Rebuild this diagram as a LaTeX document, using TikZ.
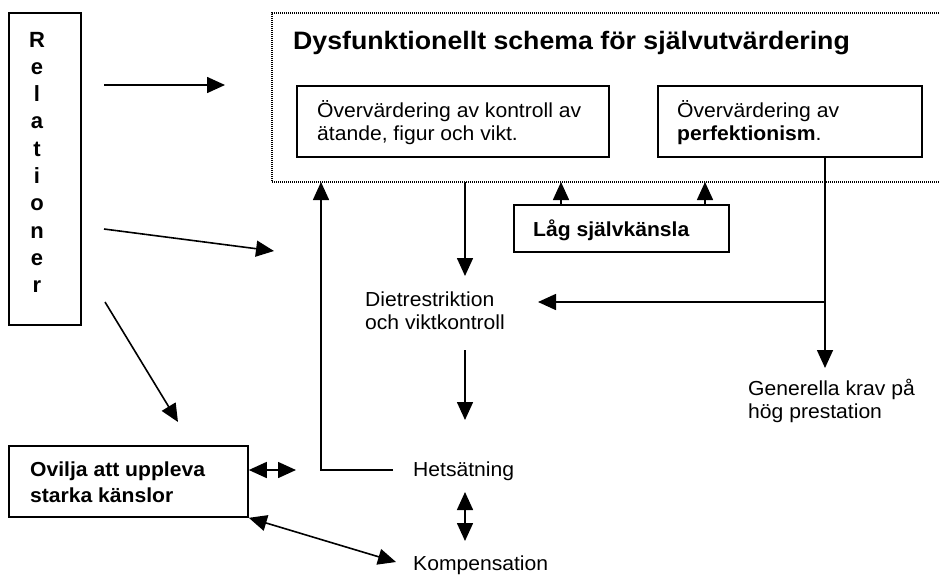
\documentclass[tikz,border=0pt]{standalone}
\usepackage{fontspec}
\setmainfont{Liberation Sans}
\usepackage{graphicx}
\usetikzlibrary{arrows.meta}
\newcommand{\hs}[1]{\scalebox{1.04}[1]{#1}}
\newcommand{\hst}[1]{\scalebox{1.06}[1]{#1}}
\begin{document}
\begin{tikzpicture}[x=1pt,y=-1pt,
  bx/.style={draw, line width=1.6pt, inner sep=0pt},
  txt/.style={inner sep=0pt, anchor=base west, font=\fontsize{20.3}{23}\selectfont},
  btxt/.style={inner sep=0pt, anchor=base west, font=\fontsize{20.3}{23}\selectfont\bfseries},
  arr/.style={line width=1.6pt, -{Triangle[length=18pt,width=16pt]}},
  darr/.style={line width=1.6pt, {Triangle[length=18pt,width=16pt]}-{Triangle[length=18pt,width=16pt]}},
  dotframe/.style={line width=1.3pt, black, dash pattern=on 1pt off 1pt}]
\useasboundingbox (0,0) rectangle (939,574);
\fill[white] (0,0) rectangle (939,574);

% Relationer
\node[bx, minimum width=72, minimum height=312] (rel) at (45,169) {};
\foreach \c [count=\i from 0] in {R,e,l,a,t,i,o,n,e,r}
  \node[btxt, anchor=base, font=\fontsize{22}{23}\selectfont\bfseries] (L\i) at (37,{47+27.3*\i}) {\c};

% dotted frame
\draw[dotframe] (939,13) -- (272,13) -- (272,182) -- (939,182);
\coordinate (fUpL) at (321,182);
\coordinate (fDown) at (465,182);
\coordinate (fLag1) at (561,182);
\coordinate (fLag2) at (705,182);

\node[btxt, font=\fontsize{25.2}{28}\selectfont\bfseries] (title) at (293,49) {\hst{Dysfunktionellt schema för självutvärdering}};

% box 1
\node[bx, minimum width=312, minimum height=71] (b1) at (453,121.5) {};
\node[txt] (b1t1) at (317,117) {\hs{Övervärdering av kontroll av}};
\node[txt] (b1t2) at (317,140) {\hs{ätande, figur och vikt.}};

% box 2
\node[bx, minimum width=264, minimum height=71] (b2) at (790,121.5) {};
\node[txt] (b2t1) at (677,117) {\hs{Övervärdering av}};
\node[txt] (b2t2) at (677,140) {\hs{\textbf{perfektionism}.}};

% Låg självkänsla
\node[bx, minimum width=215, minimum height=47] (lag) at (621.5,228.5) {};
\node[btxt] (lagt) at (533,236) {\hs{Låg självkänsla}};

% Dietrestriktion
\node[txt] (d1) at (365,306) {\hs{Dietrestriktion}};
\node[txt] (d2) at (365,329) {\hs{och viktkontroll}};
\coordinate (dTop) at (465,276);
\coordinate (dBot) at (465,350);
\coordinate (dRight) at (538,302);

% Generella
\node[txt] (g1) at (748,395) {\hs{Generella krav på}};
\node[txt] (g2) at (748,418) {\hs{hög prestation}};
\coordinate (gTop) at (825,368);
\coordinate (bBranch) at (825,302);

% Hetsätning / Kompensation
\node[txt] (het) at (413,476) {\hs{Hetsätning}};
\node[txt] (komp) at (413,570) {\hs{Kompensation}};
\coordinate (hTop) at (465,420);
\coordinate (hBot) at (465,492);
\coordinate (kTop) at (465,541);
\coordinate (hLeft) at (393,470);
\coordinate (kLeft) at (396,562);

% Ovilja
\node[bx, minimum width=239, minimum height=71] (ov) at (128.5,481.5) {};
\node[btxt] (ov1) at (30,476) {\hs{Ovilja att uppleva}};
\node[btxt] (ov2) at (30,502) {\hs{starka känslor}};
\coordinate (ovR) at (296,470);

% arrows from Relationer
\coordinate (r1s) at (104,85);  \coordinate (r1e) at (225,85);
\coordinate (r2s) at (104,229); \coordinate (r2e) at (274,251);
\coordinate (r3s) at (105,302); \coordinate (r3e) at (178,422);
\draw[arr] (r1s) -- (r1e);
\draw[arr] (r2s) -- (r2e);
\draw[arr] (r3s) -- (r3e);

% connectors
\draw[arr] (fDown) -- (dTop);
\draw[arr] (lag.north -| fLag1) -- (fLag1);
\draw[arr] (lag.north -| fLag2) -- (fLag2);
\draw[arr] (b2.south -| gTop) -- (gTop);
\draw[arr] (bBranch) -- (dRight);
\draw[arr] (dBot) -- (hTop);
\draw[arr] (hLeft) -| (fUpL);
\draw[darr] (hBot) -- (kTop);
\draw[darr] (ov.east |- ovR) -- (ovR);
\draw[darr] (ov.south east) -- (kLeft);
\end{tikzpicture}
\end{document}
